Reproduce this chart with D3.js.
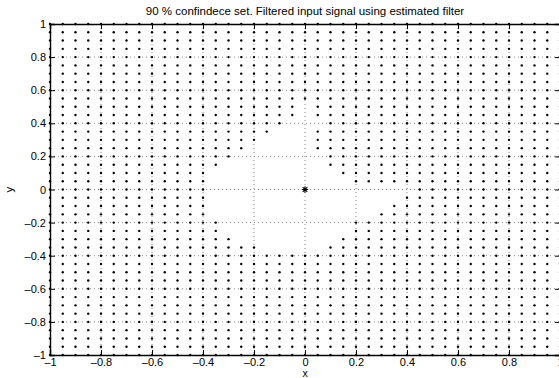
<!DOCTYPE html>
<html>
<head>
<meta charset="utf-8">
<script src="https://cdn.jsdelivr.net/npm/d3@7"></script>
<style>
  body { margin: 0; background: #fff; }
  svg { display: block; font-family: "Liberation Sans", Arial, Helvetica, sans-serif; }
</style>
</head>
<body>
<div class="chart"></div>
<script>
const titleText = '90 % confindece set. Filtered input signal using estimated filter'
// lattice of tested points (both axes)
const gridValues = [-1, -0.95, -0.9, -0.85, -0.8, -0.75, -0.7, -0.65, -0.6, -0.55, -0.5,
  -0.45, -0.4, -0.35, -0.3, -0.25, -0.2, -0.15, -0.1, -0.05, 0,
  0.05, 0.1, 0.15, 0.2, 0.25, 0.3, 0.35, 0.4, 0.45, 0.5,
  0.55, 0.6, 0.65, 0.7, 0.75, 0.8, 0.85, 0.9, 0.95, 1]
const tickValues = [-1, -0.8, -0.6, -0.4, -0.2, 0, 0.2, 0.4, 0.6, 0.8, 1]
const gridLineValues = [-0.8, -0.6, -0.4, -0.2, 0, 0.2, 0.4, 0.6, 0.8]
// rows of the confidence set (points that are not drawn), x from..to on each row
const gapRows = [0.5, 0.45, 0.4, 0.35, 0.3, 0.25, 0.2, 0.15, 0.1, 0.05, 0, -0.05, -0.1, -0.15, -0.2, -0.25, -0.3, -0.35]
const gapFrom = [0, 0, -0.05, -0.1, -0.15, -0.2, -0.25, -0.3, -0.35, -0.35, -0.35, -0.35, -0.35, -0.35, -0.3, -0.3, -0.25, -0.15]
const gapTo = [0, 0, 0.05, 0, 0, 0, 0.05, 0.05, 0.1, 0.15, 0.4, 0.35, 0.3, 0.25, 0.15, 0.15, 0.1, 0.05]
const truePoint = [0, 0]

const width = 559
const height = 378
const margin = {top: 24, right: -1, bottom: 23, left: 50}

const x = d3.scaleLinear().domain([-1, 1]).range([margin.left, width - margin.right])
const y = d3.scaleLinear().domain([-1, 1]).range([height - margin.bottom, margin.top])

const eps = 1e-6
const inGap = (px, py) => {
  const i = gapRows.findIndex(r => Math.abs(r - py) < eps)
  if (i < 0) return false
  return px > gapFrom[i] - eps && px < gapTo[i] + eps
}
const points = []
gridValues.forEach(py => {
  gridValues.forEach(px => {
    if (!inGap(px, py)) points.push([px, py])
  })
})

const fmt = d => (d < 0 ? '\u2013' : '') + Math.abs(d).toString()

const svg = d3.select('.chart').append('svg')
  .attr('width', width)
  .attr('height', height)

// dotted grid
const grid = svg.append('g')
grid.selectAll('.gx').data(gridLineValues).enter().append('line')
  .attr('x1', d => x(d)).attr('x2', d => x(d))
  .attr('y1', y(1)).attr('y2', y(-1))
  .style('stroke', '#8a8a8a').style('stroke-width', 1).style('stroke-dasharray', '1,3')
grid.selectAll('.gy').data(gridLineValues).enter().append('line')
  .attr('y1', d => y(d)).attr('y2', d => y(d))
  .attr('x1', x(-1)).attr('x2', x(1))
  .style('stroke', '#8a8a8a').style('stroke-width', 1).style('stroke-dasharray', '1,3')

// dots
svg.append('g').selectAll('circle').data(points).enter().append('circle')
  .attr('cx', d => x(d[0]))
  .attr('cy', d => y(d[1]))
  .attr('r', 1.2)
  .style('fill', '#000')

// axes (ticks inside, all four sides)
const tickLen = 5
svg.append('g')
  .attr('transform', 'translate(0,' + y(-1) + ')')
  .call(d3.axisBottom(x).tickValues(tickValues).tickSize(-tickLen).tickPadding(3).tickFormat(fmt))
svg.append('g')
  .attr('transform', 'translate(0,' + y(1) + ')')
  .call(d3.axisTop(x).tickValues(tickValues).tickSize(-tickLen).tickFormat(''))
svg.append('g')
  .attr('transform', 'translate(' + x(-1) + ',0)')
  .call(d3.axisLeft(y).tickValues(tickValues).tickSize(-tickLen).tickPadding(4).tickFormat(fmt))
svg.append('g')
  .attr('transform', 'translate(' + x(1) + ',0)')
  .call(d3.axisRight(y).tickValues(tickValues).tickSize(-tickLen).tickFormat(''))

svg.selectAll('.domain').style('stroke', '#000').style('stroke-width', 1.4)
svg.selectAll('.tick line').style('stroke', '#000').style('stroke-width', 1)
svg.selectAll('.tick text').style('font-size', '11px').style('fill', '#000')
  .style('font-family', '"Liberation Sans", Arial, sans-serif')

// true parameter marker (asterisk)
const s = 3.2
const star = svg.append('g').attr('transform', 'translate(' + x(truePoint[0]) + ',' + y(truePoint[1]) + ')')
star.append('path')
  .attr('d', 'M' + -s + ',0L' + s + ',0M0,' + -s + 'L0,' + s +
    'M' + -s * 0.72 + ',' + -s * 0.72 + 'L' + s * 0.72 + ',' + s * 0.72 +
    'M' + -s * 0.72 + ',' + s * 0.72 + 'L' + s * 0.72 + ',' + -s * 0.72)
  .style('stroke', '#000').style('stroke-width', 1.1).style('fill', 'none')

// labels
svg.append('text')
  .attr('x', x(0)).attr('y', 15)
  .style('text-anchor', 'middle').style('font-size', '11.5px')
  .text(titleText)
svg.append('text')
  .attr('x', x(0)).attr('y', 377)
  .style('text-anchor', 'middle').style('font-size', '10.5px')
  .text('x')
svg.append('text')
  .attr('transform', 'translate(13,' + y(0) + ') rotate(-90)')
  .style('text-anchor', 'middle').style('font-size', '11.5px')
  .text('y')
</script>
</body>
</html>
